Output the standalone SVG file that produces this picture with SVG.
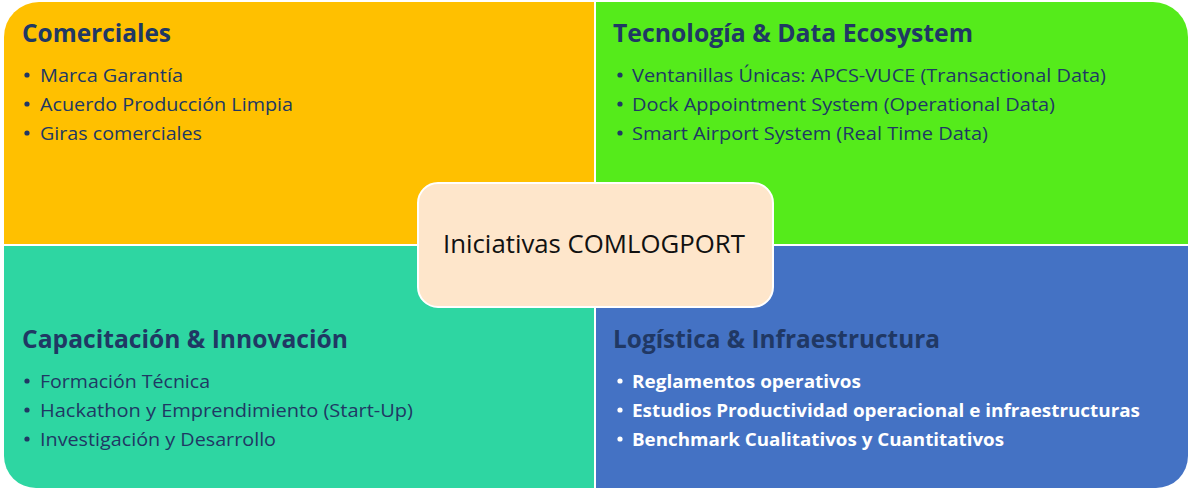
<svg xmlns="http://www.w3.org/2000/svg" width="1191" height="490" viewBox="0 0 1191 490">
<style>
.h{font-family:"Open Sans","Noto Sans","Liberation Sans",sans-serif;font-weight:bold;font-size:25.5px;fill:#203864}
.t{font-family:"Open Sans","Noto Sans","Liberation Sans",sans-serif;font-size:18.5px;fill:#203864}
.w{font-family:"Open Sans","Noto Sans","Liberation Sans",sans-serif;font-size:18.5px;font-weight:bold;fill:#ffffff}
.c{font-family:"Open Sans","Noto Sans","Liberation Sans",sans-serif;font-size:25.5px;fill:#111111}
.d{fill:#203864}
.dw{fill:#ffffff}
</style>
<rect width="1191" height="490" fill="#ffffff"/>
<g id="comerciales">
<path d="M4,244 V37 A35,35 0 0 1 39,2 H594 V244 Z" fill="#FFC000"/>
<text class="h" x="22" y="42" textLength="149" lengthAdjust="spacingAndGlyphs">Comerciales</text>
<circle class="d" cx="27" cy="75" r="2.6"/>
<text class="t" x="40" y="82" textLength="143" lengthAdjust="spacingAndGlyphs">Marca Garantía</text>
<circle class="d" cx="27" cy="104" r="2.6"/>
<text class="t" x="40" y="111" textLength="253" lengthAdjust="spacingAndGlyphs">Acuerdo Producción Limpia</text>
<circle class="d" cx="27" cy="133" r="2.6"/>
<text class="t" x="40" y="140" textLength="162" lengthAdjust="spacingAndGlyphs">Giras comerciales</text>
</g>
<g id="tecnologia">
<path d="M596,2 H1153 A35,35 0 0 1 1188,37 V244 H596 Z" fill="#55EB1B"/>
<text class="h" x="613" y="42" textLength="360" lengthAdjust="spacingAndGlyphs">Tecnología &amp; Data Ecosystem</text>
<circle class="d" cx="620" cy="75" r="2.6"/>
<text class="t" x="632" y="82" textLength="474" lengthAdjust="spacingAndGlyphs">Ventanillas Únicas: APCS-VUCE (Transactional Data)</text>
<circle class="d" cx="620" cy="104" r="2.6"/>
<text class="t" x="632" y="111" textLength="423" lengthAdjust="spacingAndGlyphs">Dock Appointment System (Operational Data)</text>
<circle class="d" cx="620" cy="133" r="2.6"/>
<text class="t" x="632" y="140" textLength="356" lengthAdjust="spacingAndGlyphs">Smart Airport System (Real Time Data)</text>
</g>
<g id="capacitacion">
<path d="M4,246 H594 V488 H36 A32,32 0 0 1 4,456 Z" fill="#2ED6A2"/>
<text class="h" x="22" y="348" textLength="326" lengthAdjust="spacingAndGlyphs">Capacitación &amp; Innovación</text>
<circle class="d" cx="27" cy="381" r="2.6"/>
<text class="t" x="40" y="388" textLength="170" lengthAdjust="spacingAndGlyphs">Formación Técnica</text>
<circle class="d" cx="27" cy="410" r="2.6"/>
<text class="t" x="40" y="417" textLength="373" lengthAdjust="spacingAndGlyphs">Hackathon y Emprendimiento (Start-Up)</text>
<circle class="d" cx="27" cy="439" r="2.6"/>
<text class="t" x="40" y="446" textLength="236" lengthAdjust="spacingAndGlyphs">Investigación y Desarrollo</text>
</g>
<g id="logistica">
<path d="M596,246 H1188 V456 A32,32 0 0 1 1156,488 H596 Z" fill="#4472C4"/>
<text class="h" x="613" y="348" textLength="327" lengthAdjust="spacingAndGlyphs">Logística &amp; Infraestructura</text>
<circle class="dw" cx="620" cy="381" r="2.6"/>
<text class="w" x="632" y="388" textLength="229" lengthAdjust="spacingAndGlyphs">Reglamentos operativos</text>
<circle class="dw" cx="620" cy="410" r="2.6"/>
<text class="w" x="632" y="417" textLength="508" lengthAdjust="spacingAndGlyphs">Estudios Productividad operacional e infraestructuras</text>
<circle class="dw" cx="620" cy="439" r="2.6"/>
<text class="w" x="632" y="446" textLength="372" lengthAdjust="spacingAndGlyphs">Benchmark Cualitativos y Cuantitativos</text>
</g>
<g id="connectors"></g>
<g id="centro">
<rect x="418" y="183" width="355" height="124" rx="20" ry="20" fill="#FEE6CB" stroke="#ffffff" stroke-width="2"/>
<text class="c" x="443" y="253" textLength="302" lengthAdjust="spacingAndGlyphs">Iniciativas COMLOGPORT</text>
</g>
</svg>
